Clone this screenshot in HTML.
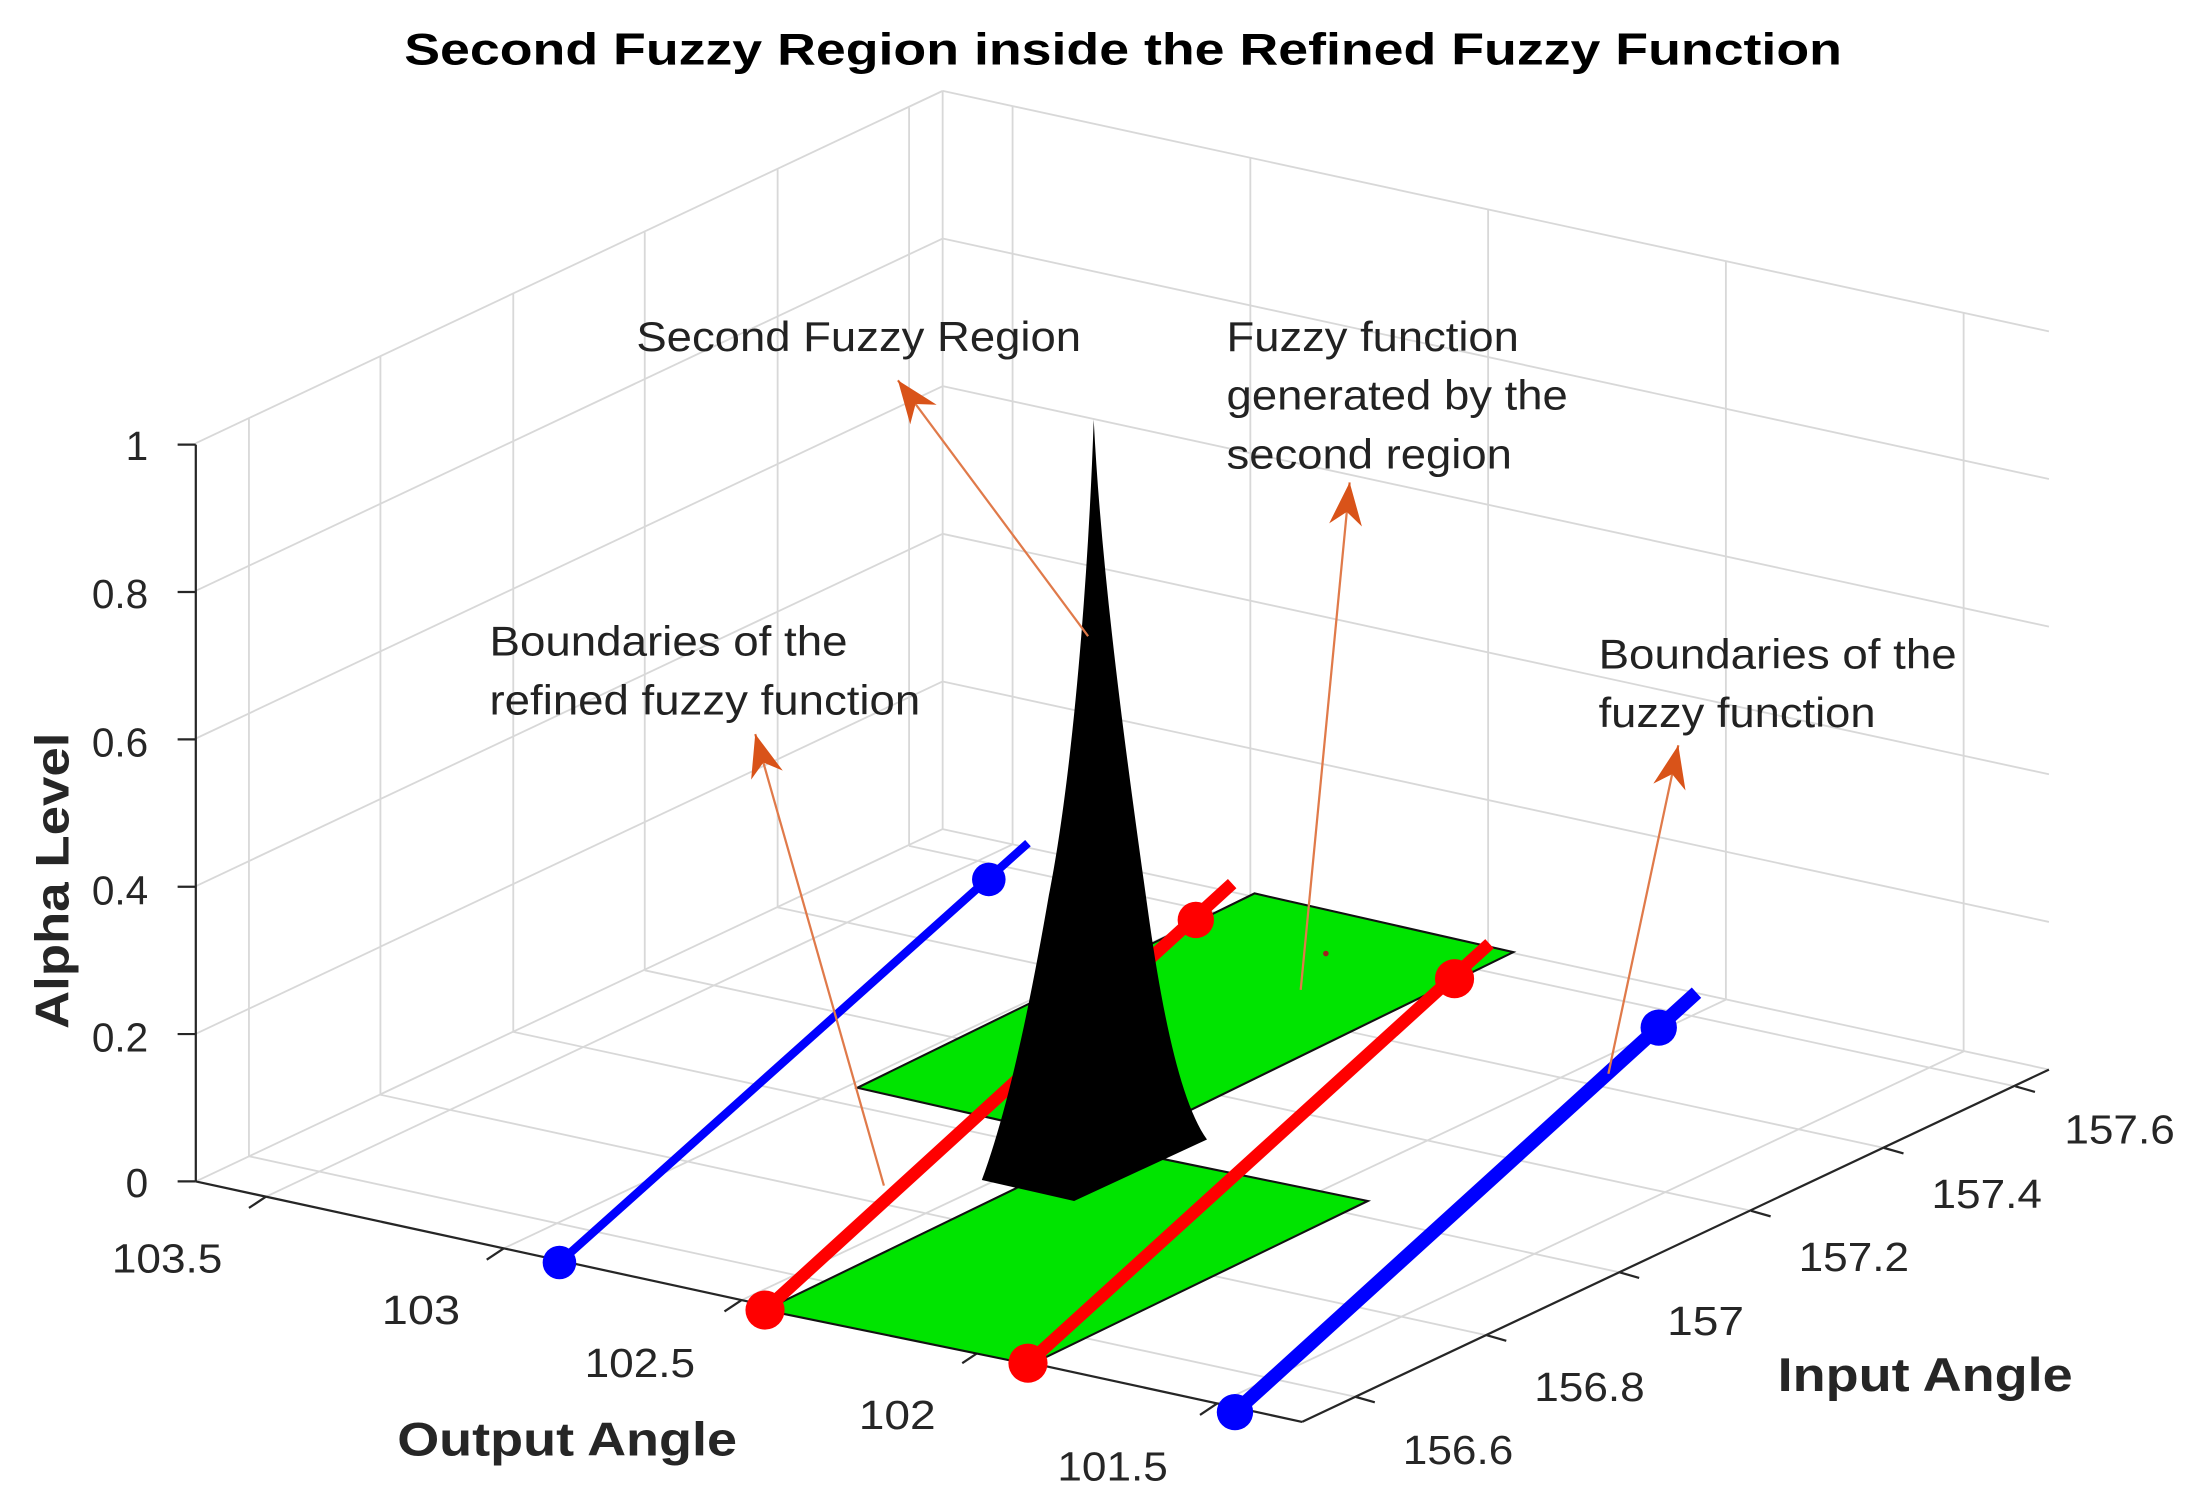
<!DOCTYPE html>
<html><head><meta charset="utf-8"><style>
html,body{margin:0;padding:0;background:#fff;}
svg{display:block;}
text{font-family:"Liberation Sans",Arial,sans-serif;}
</style></head><body>
<svg width="2193" height="1503" viewBox="0 0 1568 1075" preserveAspectRatio="none" xmlns="http://www.w3.org/2000/svg">
<defs>
<marker id="ah" markerUnits="userSpaceOnUse" markerWidth="40" markerHeight="40" refX="0" refY="0" viewBox="-30 -15 34 30" orient="auto" overflow="visible">
<path d="M0,0 L-26,-10 L-18,0 L-26,10 Z" fill="#d95319"/>
</marker>
</defs>
<rect width="1568" height="1075" fill="#fff"/>
<g stroke="#d8d8d8" stroke-width="1.3" fill="none">
<line x1="140" y1="739.4" x2="674" y2="487.4"/>
<line x1="140" y1="633.8" x2="674" y2="381.8"/>
<line x1="140" y1="528.2" x2="674" y2="276.2"/>
<line x1="140" y1="422.6" x2="674" y2="170.6"/>
<line x1="140" y1="317" x2="674" y2="65"/>
<line x1="140" y1="845" x2="674" y2="593"/>
<line x1="178" y1="827" x2="178" y2="299"/>
<line x1="272" y1="783" x2="272" y2="255"/>
<line x1="367" y1="738" x2="367" y2="210"/>
<line x1="461" y1="694" x2="461" y2="166"/>
<line x1="556" y1="649" x2="556" y2="121"/>
<line x1="650" y1="605" x2="650" y2="77"/>
<line x1="674" y1="593" x2="674" y2="65"/>
<line x1="674" y1="593" x2="1465" y2="765"/>
<line x1="674" y1="487.4" x2="1465" y2="659.4"/>
<line x1="674" y1="381.8" x2="1465" y2="553.8"/>
<line x1="674" y1="276.2" x2="1465" y2="448.2"/>
<line x1="674" y1="170.6" x2="1465" y2="342.6"/>
<line x1="674" y1="65" x2="1465" y2="237"/>
<line x1="724" y1="604" x2="724" y2="76"/>
<line x1="894" y1="641" x2="894" y2="113"/>
<line x1="1064" y1="678" x2="1064" y2="150"/>
<line x1="1234" y1="715" x2="1234" y2="187"/>
<line x1="1404" y1="752" x2="1404" y2="224"/>
<line x1="190" y1="856" x2="724" y2="604"/>
<line x1="360" y1="893" x2="894" y2="641"/>
<line x1="530" y1="930" x2="1064" y2="678"/>
<line x1="700" y1="967" x2="1234" y2="715"/>
<line x1="870" y1="1004" x2="1404" y2="752"/>
<line x1="969" y1="999" x2="178" y2="827"/>
<line x1="1063" y1="955" x2="272" y2="783"/>
<line x1="1158" y1="910" x2="367" y2="738"/>
<line x1="1252" y1="866" x2="461" y2="694"/>
<line x1="1347" y1="821" x2="556" y2="649"/>
<line x1="1441" y1="777" x2="650" y2="605"/>
</g>
<g stroke="#262626" stroke-width="1.6" fill="none">
<line x1="140" y1="318" x2="140" y2="845"/>
<line x1="140" y1="845" x2="931" y2="1017"/>
<line x1="931" y1="1017" x2="1465" y2="765"/>
<line x1="140" y1="318" x2="127" y2="318"/>
<line x1="140" y1="423.4" x2="127" y2="423.4"/>
<line x1="140" y1="528.8" x2="127" y2="528.8"/>
<line x1="140" y1="634.2" x2="127" y2="634.2"/>
<line x1="140" y1="739.6" x2="127" y2="739.6"/>
<line x1="140" y1="845" x2="127" y2="845"/>
<line x1="190" y1="856" x2="178" y2="864"/>
<line x1="360" y1="893" x2="348" y2="901"/>
<line x1="530" y1="930" x2="518" y2="938"/>
<line x1="700" y1="967" x2="688" y2="975"/>
<line x1="870" y1="1004" x2="858" y2="1012"/>
<line x1="969" y1="999" x2="983" y2="1003"/>
<line x1="1063" y1="955" x2="1077" y2="959"/>
<line x1="1158" y1="910" x2="1172" y2="914"/>
<line x1="1252" y1="866" x2="1266" y2="870"/>
<line x1="1347" y1="821" x2="1361" y2="825"/>
<line x1="1441" y1="777" x2="1455" y2="781"/>
</g>
<g font-size="29" fill="#262626">
<g text-anchor="end">
<text x="106" y="329">1</text>
<text x="106" y="435">0.8</text>
<text x="106" y="541">0.6</text>
<text x="106" y="647">0.4</text>
<text x="106" y="752">0.2</text>
<text x="106" y="856">0</text>
</g>
<text x="80" y="910" textLength="79" lengthAdjust="spacingAndGlyphs">103.5</text>
<text x="273" y="947" textLength="56" lengthAdjust="spacingAndGlyphs">103</text>
<text x="418" y="985" textLength="79" lengthAdjust="spacingAndGlyphs">102.5</text>
<text x="614" y="1022" textLength="55" lengthAdjust="spacingAndGlyphs">102</text>
<text x="756" y="1059" textLength="79" lengthAdjust="spacingAndGlyphs">101.5</text>
<text x="1003" y="1047" textLength="79" lengthAdjust="spacingAndGlyphs">156.6</text>
<text x="1097" y="1002" textLength="79" lengthAdjust="spacingAndGlyphs">156.8</text>
<text x="1192" y="955" textLength="55" lengthAdjust="spacingAndGlyphs">157</text>
<text x="1286" y="909" textLength="79" lengthAdjust="spacingAndGlyphs">157.2</text>
<text x="1381" y="864" textLength="79" lengthAdjust="spacingAndGlyphs">157.4</text>
<text x="1476" y="818" textLength="79" lengthAdjust="spacingAndGlyphs">157.6</text>
</g>
<polygon points="613,778 798,820 1082,681 897,639" fill="#00e400" stroke="#111" stroke-width="1.5"/>
<polygon points="547,937 737,976 978,859 788,820" fill="#00e400" stroke="#111" stroke-width="1.5"/>
<line x1="547" y1="937" x2="881" y2="632" stroke="#ff0000" stroke-width="9"/>
<circle cx="855" cy="658" r="13" fill="#ff0000"/>
<path d="M782,300 C778,420 766,560 750,640 C738,710 722,790 702,844 L768,859 L863,815 C845,790 832,730 822,660 C808,560 788,420 782,300 Z" fill="#000"/>
<circle cx="547" cy="937" r="14" fill="#ff0000"/>
<line x1="735" y1="975" x2="1065" y2="675" stroke="#ff0000" stroke-width="9"/>
<circle cx="735" cy="975" r="14" fill="#ff0000"/>
<circle cx="1040" cy="700" r="14" fill="#ff0000"/>
<line x1="400" y1="903" x2="735" y2="603" stroke="#0000ff" stroke-width="6"/>
<circle cx="400" cy="903" r="12" fill="#0000ff"/>
<circle cx="707" cy="629" r="12" fill="#0000ff"/>
<line x1="883" y1="1010" x2="1213" y2="710" stroke="#0000ff" stroke-width="10"/>
<circle cx="883" cy="1010" r="13" fill="#0000ff"/>
<circle cx="1186" cy="735" r="13" fill="#0000ff"/>
<circle cx="948" cy="682" r="2" fill="#a02020"/>
<g stroke="#e07a4a" stroke-width="1.6" fill="none" marker-end="url(#ah)">
<line x1="778" y1="455" x2="642" y2="272"/>
<line x1="930" y1="708" x2="965" y2="345"/>
<line x1="632" y1="848" x2="540" y2="525"/>
<line x1="1150" y1="768" x2="1200" y2="533"/>
</g>
<g font-size="30" fill="#222">
<text x="455" y="251" textLength="318" lengthAdjust="spacingAndGlyphs">Second Fuzzy Region</text>
<text x="877" y="251" textLength="209" lengthAdjust="spacingAndGlyphs">Fuzzy function</text>
<text x="877" y="293" textLength="244" lengthAdjust="spacingAndGlyphs">generated by the</text>
<text x="877" y="335" textLength="204" lengthAdjust="spacingAndGlyphs">second region</text>
<text x="350" y="469" textLength="256" lengthAdjust="spacingAndGlyphs">Boundaries of the</text>
<text x="350" y="511" textLength="308" lengthAdjust="spacingAndGlyphs">refined fuzzy function</text>
<text x="1143" y="478" textLength="256" lengthAdjust="spacingAndGlyphs">Boundaries of the</text>
<text x="1143" y="520" textLength="198" lengthAdjust="spacingAndGlyphs">fuzzy function</text>
</g>
<text x="289" y="46" font-size="32" font-weight="bold" fill="#000" textLength="1028" lengthAdjust="spacingAndGlyphs">Second Fuzzy Region inside the Refined Fuzzy Function</text>
<g font-size="34" font-weight="bold" fill="#262626">
<text x="284" y="1041" textLength="243" lengthAdjust="spacingAndGlyphs">Output Angle</text>
<text x="1271" y="995" textLength="211" lengthAdjust="spacingAndGlyphs">Input Angle</text>
<text transform="translate(49,630) rotate(-90)" text-anchor="middle" textLength="212" lengthAdjust="spacingAndGlyphs">Alpha Level</text>
</g>
</svg>
</body></html>
